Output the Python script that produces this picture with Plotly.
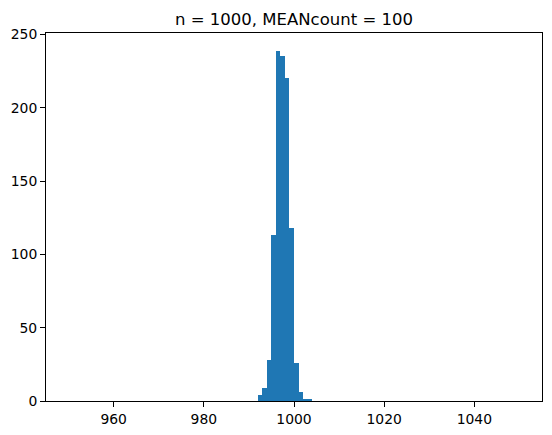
import plotly.graph_objects as go

# histogram bins (left edges, width 1) and counts
bin_left = [992, 993, 994, 995, 996, 997, 998, 999, 1000, 1001, 1002, 1003]
counts = [4, 9, 28, 113, 239, 235, 220, 118, 26, 6, 1, 1]
bin_width = 1

x_ticks = [960, 980, 1000, 1020, 1040]
y_ticks = [0, 50, 100, 150, 200, 250]

fig = go.Figure(
    go.Bar(
        x=[b + bin_width / 2 for b in bin_left],
        y=counts,
        width=bin_width,
        marker=dict(color="#1f77b4", line=dict(width=0)),
    )
)

axis_style = dict(
    showline=True,
    mirror=True,
    linecolor="black",
    linewidth=1,
    ticks="outside",
    ticklen=5,
    tickwidth=1,
    tickcolor="black",
    showgrid=False,
    zeroline=False,
    automargin=False,
    tickfont=dict(family="DejaVu Sans", size=13.9, color="black"),
)

fig.update_xaxes(range=[945, 1055], tickvals=x_ticks, **axis_style)
fig.update_yaxes(range=[0, max(counts) * 1.05], tickvals=y_ticks, **axis_style)

# the page body adds an 8px margin, so the figure is 8px smaller each way
fig.update_layout(
    width=544,
    height=427,
    margin=dict(l=38, r=10, t=25, b=34),
    paper_bgcolor="white",
    plot_bgcolor="white",
    showlegend=False,
    bargap=0,
    title=dict(
        text="n = 1000, MEANcount = 100",
        x=0.5,
        xref="paper",
        y=1 - 11 / 427,
        yanchor="middle",
        automargin=False,
        font=dict(family="DejaVu Sans", size=16.5, color="black"),
    ),
)

fig.write_html("out.html")
